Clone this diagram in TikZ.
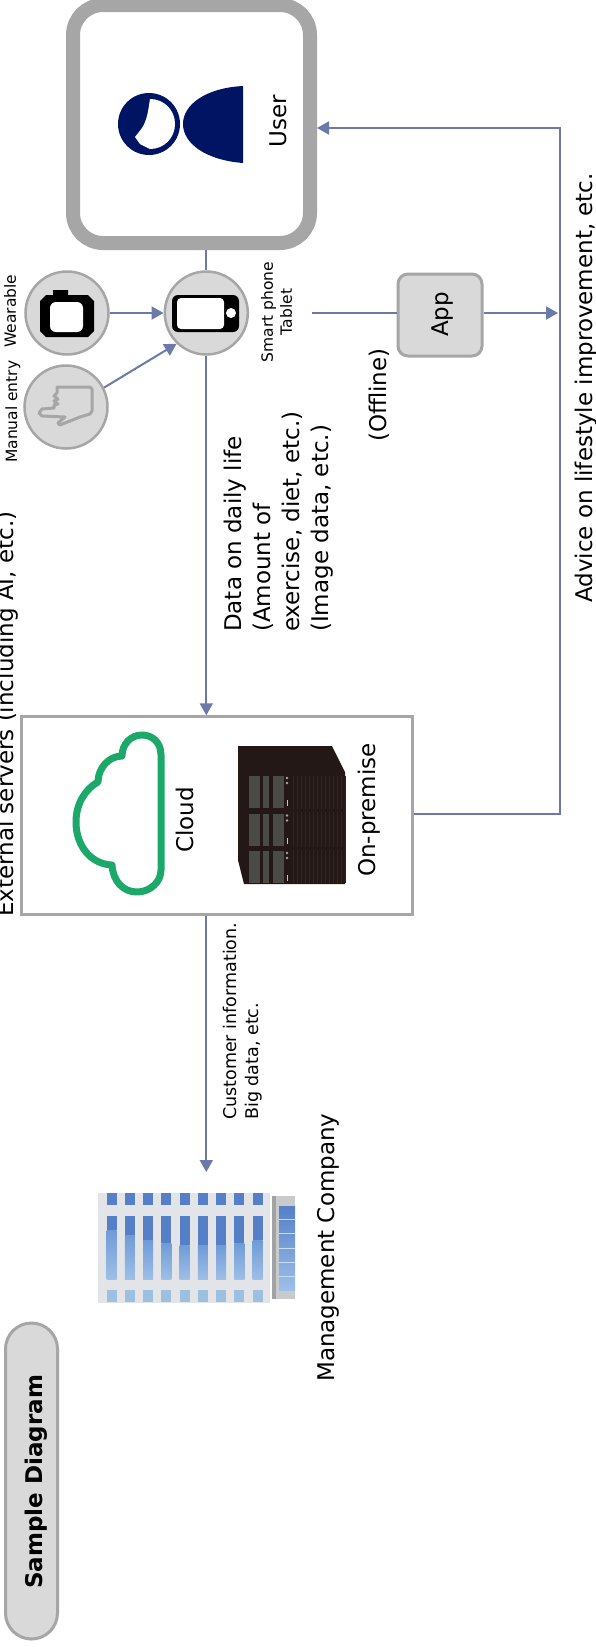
\documentclass[tikz,border=0pt]{standalone}
\usepackage{fontspec}
\setmainfont{DejaVu Sans}
\usetikzlibrary{arrows.meta}
\definecolor{linkc}{HTML}{6C7AA9}
\definecolor{edgec}{HTML}{A6A6A6}
\definecolor{fillc}{HTML}{D9D9D9}
\definecolor{navyc}{HTML}{001464}
\definecolor{cloudc}{HTML}{1BA868}
\definecolor{serverc}{HTML}{231815}
\definecolor{panelc}{HTML}{4A4A46}
\definecolor{stripec}{HTML}{2F2623}
\definecolor{glassa}{HTML}{6F9BD6}
\definecolor{glassb}{HTML}{9DBFE8}
\definecolor{glassc}{HTML}{5580C8}
\definecolor{glassd}{HTML}{9DBFE0}
\definecolor{wallc}{HTML}{E3E4E8}
\definecolor{annexc}{HTML}{C8CACC}
\definecolor{annexd}{HTML}{A0A2A4}
\definecolor{glinec}{HTML}{C4DCF4}
\tikzset{
  link/.style={draw=linkc,line width=2pt},
  arrowlink/.style={link,-{Triangle[length=12pt,width=13pt]}},
  disc/.style={circle,draw=edgec,fill=fillc,line width=2.5pt,minimum size=83pt,inner sep=0pt},
  softbox/.style={draw=edgec,fill=fillc,line width=3pt,inner sep=0pt},
  vtext/.style={rotate=90,inner sep=0pt,anchor=base west,text=black},
  big/.style={font=\fontsize{23}{29}\selectfont},
  small/.style={font=\fontsize{15.5}{19}\selectfont},
  note/.style={font=\fontsize{17.5}{22}\selectfont},
}
\begin{document}
\begin{tikzpicture}[x=1pt,y=-1pt]
\useasboundingbox (0,0) rectangle (595,1647);
\clip (0,0) rectangle (595,1647);
\fill[white] (0,0) rectangle (595,1647);
% nodes
\node[draw=edgec,fill=white,line width=14pt,rounded corners=30pt,minimum width=237pt,minimum height=238pt,inner sep=0pt] (user) at (191.5,124) {};
\node[disc] (smart) at (206.3,313) {};
\node[disc] (wear) at (67,313) {};
\node[disc] (manual) at (66,407) {};
\node[softbox,rounded corners=10pt,minimum width=84pt,minimum height=82pt] (app) at (440,315) {};
\node[draw=edgec,fill=white,line width=2.5pt,minimum width=391pt,minimum height=198pt,inner sep=0pt] (srv) at (217,815.5) {};
\node[softbox,rounded corners=26pt,minimum width=52pt,minimum height=316pt] (title) at (31.5,1481) {};
\coordinate (advTop) at (560,128);
\coordinate (advBot) at (560,814);
\coordinate (appIn) at (312,313);
\coordinate (appEnd) at (558,313);
\coordinate (mgmt) at (206.3,1172);
% connectors
\draw[link] (smart.north) -- (smart.north |- user.south);
\draw[arrowlink] (smart.south) -- (smart.south |- srv.north);
\draw[arrowlink] (wear.east) -- (smart.west);
\draw[arrowlink] (manual.27) -- (smart.226);
\draw[link] (appIn) -- (app.west |- appIn);
\draw[arrowlink] (app.east |- appEnd) -- (appEnd);
\draw[arrowlink] (srv.east |- advBot) -- (advBot) -- (advTop) -- (user.east |- advTop);
\draw[arrowlink] (mgmt |- srv.south) -- (mgmt);
% person
\fill[navyc] (149,124) circle (31);
\fill[white] (150,99) .. controls (164,99) and (175,110) .. (175,124) .. controls (175,138) and (164,149) .. (150,149) -- (148,148) -- (140,144) -- (135,137) -- (142,128) .. controls (147,120) and (148,112) .. (150,99) -- cycle;
\fill[navyc] (243,86) .. controls (205,88) and (183,105) .. (183,124) .. controls (183,143) and (205,160) .. (243,163) -- cycle;
% wearable
\fill[black] (53,295) -- (53,290) -- (68,290) -- (68,295) -- (88,295) -- (94,301) -- (94,331) -- (88,337) -- (46,337) -- (40,331) -- (40,301) -- (46,295) -- cycle;
\fill[white,rounded corners=6pt] (50,302) rectangle (83,332);
% phone
\fill[black,rounded corners=6pt] (172,295) rectangle (239,332);
\fill[white,rounded corners=4pt] (177,298) rectangle (224,329);
\fill[white] (231,313) circle (5);
% hand
\draw[edgec,line width=3pt,line join=round,fill=fillc] (57,387) -- (90,387) -- (92,389) -- (92,411) -- (90,414) -- (80,417) -- (60,425) -- (58,423) -- (65,417) -- (42,416) -- (39,413) -- (42,409) -- (54,408) -- (54,405) -- (58,404) -- (54,401) -- (58,399) -- (54,396) -- (57,393) -- cycle;
% cloud
\draw[cloudc,line width=7pt,line join=round,fill=white] (161,870)
 -- (161,755) .. controls (161,742) and (152,735) .. (142,735)
 .. controls (131,735) and (122,744) .. (122,756)
 .. controls (109,756) and (98,768) .. (98,782)
 .. controls (84,790) and (76,805) .. (76,822)
 .. controls (76,845) and (90,864) .. (112,865)
 .. controls (113,881) and (123,892) .. (137,892)
 .. controls (150,892) and (161,882) .. (161,870) -- cycle;
% server
\fill[serverc] (238,746) -- (332,746) -- (345,772) -- (345,884) -- (244,884) -- (238,860) -- cycle;
\foreach \x in {293,297,...,345}{\draw[stripec,line width=.8pt] (\x,776) -- (\x,883);}
\foreach \d in {0,37.5,75}{
  \fill[panelc] (249,776+\d) rectangle (260,808+\d);
  \fill[panelc] (263,776+\d) rectangle (269,808+\d);
  \fill[panelc] (273,776+\d) rectangle (284,808+\d);
  \fill[gray!70] (287,778+\d) circle (1.3);
  \fill[gray!70] (287,783+\d) circle (1.3);
  \fill[gray!45] (287,800+\d) rectangle (288,806+\d);
}
\foreach \y in {810.5,848}{\draw[serverc,line width=3pt] (292,\y) -- (345,\y);}
% building
\fill[wallc] (98,1193) rectangle (270,1303);
\fill[annexc] (272,1196) rectangle (295,1299);
\fill[annexd] (272,1196) rectangle (276,1299);
\foreach \n/\wy in {0/1230,1/1235,2/1240,3/1243,4/1245,5/1245,6/1245,7/1243,8/1240}{
  \pgfmathsetmacro{\wx}{106.7+18.25*\n}
  \fill[glassc] (\wx,1193) rectangle ++(10,12);
  \shade[top color=glassa,bottom color=glassb] (\wx,\wy) rectangle (\wx+10,1279);
  \fill[glassc] (\wx,1216) rectangle (\wx+10,\wy);
  \fill[glassd] (\wx,1290) rectangle ++(10,12);
}
\shade[top color=glassc,bottom color=glassb] (279,1206) rectangle (295,1290);
\foreach \y in {1219,1233,1248,1262,1276}{\draw[glinec,line width=.7pt] (279,\y) -- (295,\y);}
% texts
\node[vtext,big] (tuser) at (286,148) {User};
\node[vtext,small] (twear) at (16,348) {Wearable};
\node[vtext,small] (tman) at (17,463) {Manual entry};
\node[rotate=90,inner sep=0pt,align=center,small,anchor=north] (tsmart) at (261,312) {Smart phone\\Tablet};
\node[rotate=90,inner sep=0pt,align=left,big,anchor=north west] (tdata) at (223.5,632) {Data on daily life\\(Amount of\\exercise, diet, etc.)\\(Image data, etc.)};
\node[vtext,big] (tapp) at (448,337) {App};
\node[vtext,big] (toff) at (386,442) {(Offline)};
\node[vtext,big] (tadv) at (592,603) {Advice on lifestyle improvement, etc.};
\node[vtext,big] (text) at (13,917) {External servers (including AI, etc.)};
\node[vtext,big] (tcloud) at (193,853) {Cloud};
\node[vtext,big] (tprem) at (375,877) {On-premise};
\node[rotate=90,inner sep=0pt,align=left,note,anchor=north west] (tcust) at (222.7,1120) {Customer information.\\Big data, etc.};
\node[vtext,big] (tmgmt) at (334,1382) {Management Company};
\node[vtext,font=\fontsize{23}{29}\bfseries\selectfont] (ttitle) at (42,1589) {Sample Diagram};
\end{tikzpicture}
\end{document}
